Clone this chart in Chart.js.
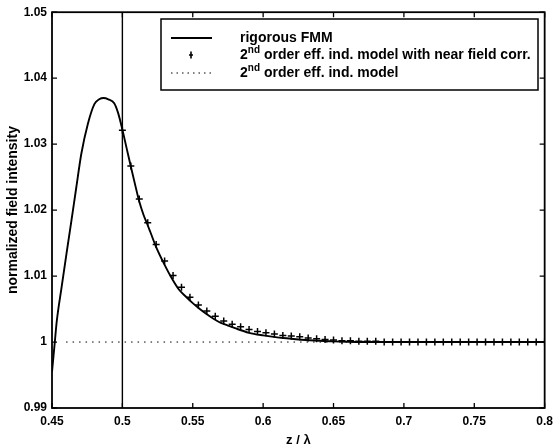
<!DOCTYPE html>
<html>
<head>
<meta charset="utf-8">
<script src="https://cdn.jsdelivr.net/npm/chart.js@4.4.1/dist/chart.umd.min.js"></script>
<style>
html,body{margin:0;padding:0;background:#fff;}
#wrap{width:559px;height:445px;}
</style>
</head>
<body>
<div id="wrap"><canvas id="c" width="559" height="445"></canvas></div>
<script>
// ---- data ----
const xTicks = [0.45, 0.5, 0.55, 0.6, 0.65, 0.7, 0.75, 0.8];
const xTickLabels = ['0.45', '0.5', '0.55', '0.6', '0.65', '0.7', '0.75', '0.8'];
const yTicks = [0.99, 1.0, 1.01, 1.02, 1.03, 1.04, 1.05];
const yTickLabels = ['0.99', '1', '1.01', '1.02', '1.03', '1.04', '1.05'];

// rigorous FMM (solid line)
const fmmZ = [0.450, 0.452, 0.4533, 0.4568, 0.4603, 0.4638, 0.4673, 0.4708, 0.4755, 0.4802, 0.4835, 0.4867,
  0.490, 0.4942, 0.497, 0.500, 0.503, 0.506, 0.509, 0.512, 0.515, 0.518, 0.520, 0.524, 0.530, 0.535,
  0.540, 0.545, 0.550, 0.555, 0.560, 0.565, 0.570, 0.575, 0.580, 0.590, 0.600, 0.610, 0.620, 0.630,
  0.640, 0.650, 0.660, 0.680, 0.700, 0.750, 0.800];
const fmmV = [0.9955, 1.0000, 1.0030, 1.0083, 1.0134, 1.0184, 1.0235, 1.0285, 1.0331, 1.0361, 1.0368, 1.0370,
  1.0368, 1.0362, 1.0347, 1.0322, 1.0294, 1.0266, 1.0239, 1.0213, 1.0193, 1.0177, 1.0166, 1.0144, 1.0117, 1.0097,
  1.0080, 1.0069, 1.0059, 1.0050, 1.0042, 1.0035, 1.0029, 1.0025, 1.0021, 1.0014, 1.0010, 1.0007, 1.0005, 1.0003,
  1.0002, 1.0001, 1.00005, 1.0000, 1.0000, 1.0000, 1.0000];

// 2nd order eff. ind. model with near field corr. (+ markers)
const nfZ = [0.500, 0.506, 0.512, 0.518, 0.524, 0.530, 0.536, 0.542, 0.548, 0.554, 0.560, 0.566, 0.572,
  0.578, 0.584, 0.590, 0.596, 0.602, 0.608, 0.614, 0.620, 0.626, 0.632, 0.638, 0.644, 0.650, 0.656,
  0.662, 0.668, 0.674, 0.680, 0.686, 0.692, 0.698, 0.704, 0.710, 0.716, 0.722, 0.728, 0.734, 0.740,
  0.746, 0.752, 0.758, 0.764, 0.770, 0.776, 0.782, 0.788, 0.794, 0.800];
const nfV = [1.0321, 1.0267, 1.0217, 1.0181, 1.0148, 1.0123, 1.0101, 1.0083, 1.0068, 1.0056, 1.0047, 1.0039, 1.0032,
  1.0027, 1.0023, 1.0019, 1.0016, 1.0014, 1.0012, 1.0010, 1.0009, 1.0008, 1.0006, 1.0005, 1.0004, 1.0003, 1.0002,
  1.0002, 1.0001, 1.0001, 1.0001, 1.0000, 1.0000, 1.0000, 1.0000, 1.0000, 1.0000, 1.0000, 1.0000, 1.0000, 1.0000,
  1.0000, 1.0000, 1.0000, 1.0000, 1.0000, 1.0000, 1.0000, 1.0000, 1.0000, 1.0000];

// 2nd order eff. ind. model (dotted)
const effZ = [0.460, 0.800];
const effV = [1.0, 1.0];

// vertical reference line
const vLineZ = [0.5, 0.5];
const vLineV = [0.99, 1.05];

const legendLabels = ['rigorous FMM', '2|nd| order eff. ind. model with near field corr.', '2|nd| order eff. ind. model'];

const pts = (xs, ys) => xs.map((x, i) => ({x: x, y: ys[i]}));

const FONT = '"Liberation Sans", Arial, sans-serif';

const boxPlugin = {
  id: 'boxTicksLegend',
  afterDraw(chart) {
    const ctx = chart.ctx;
    const {left, right, top, bottom} = chart.chartArea;
    const xs = chart.scales.x, ys = chart.scales.y;
    ctx.save();
    ctx.strokeStyle = '#000';
    ctx.lineWidth = 1.8;
    ctx.strokeRect(left, top, right - left, bottom - top);
    ctx.lineWidth = 1.3;
    const tl = 5;
    ctx.beginPath();
    xTicks.forEach(v => {
      const p = xs.getPixelForValue(v);
      ctx.moveTo(p, bottom); ctx.lineTo(p, bottom - tl);
      ctx.moveTo(p, top); ctx.lineTo(p, top + tl);
    });
    yTicks.forEach(v => {
      const p = ys.getPixelForValue(v);
      ctx.moveTo(left, p); ctx.lineTo(left + tl, p);
      ctx.moveTo(right, p); ctx.lineTo(right - tl, p);
    });
    ctx.stroke();

    // legend
    const bx = 161, by = 19, bw = 377, bh = 71;
    ctx.fillStyle = '#fff';
    ctx.fillRect(bx, by, bw, bh);
    ctx.lineWidth = 1.5;
    ctx.strokeRect(bx, by, bw, bh);
    const rows = [38, 55, 73];
    // sample 1: solid
    ctx.lineWidth = 1.8;
    ctx.beginPath(); ctx.moveTo(171, rows[0]); ctx.lineTo(212, rows[0]); ctx.stroke();
    // sample 2: cross marker
    ctx.lineWidth = 1.6;
    ctx.beginPath();
    ctx.moveTo(191, rows[1] - 3.5); ctx.lineTo(191, rows[1] + 3.5);
    ctx.moveTo(189, rows[1]); ctx.lineTo(193, rows[1]);
    ctx.stroke();
    // sample 3: dotted
    ctx.lineWidth = 1;
    ctx.setLineDash([1.5, 4]);
    ctx.beginPath(); ctx.moveTo(171, rows[2]); ctx.lineTo(212, rows[2]); ctx.stroke();
    ctx.setLineDash([]);
    // texts
    ctx.fillStyle = '#000';
    ctx.textBaseline = 'middle';
    ctx.textAlign = 'left';
    legendLabels.forEach((lab, i) => {
      const parts = lab.split('|');
      let x = 240;
      parts.forEach((p, j) => {
        if (j % 2 === 1) {
          ctx.font = 'bold 10px ' + FONT;
          ctx.fillText(p, x, rows[i] - 5);
        } else {
          ctx.font = 'bold 14px ' + FONT;
          ctx.fillText(p, x, rows[i]);
        }
        x += ctx.measureText(p).width;
      });
    });
    ctx.restore();
  }
};

new Chart(document.getElementById('c'), {
  type: 'scatter',
  data: {
    datasets: [
      {
        label: 'rigorous FMM',
        data: pts(fmmZ, fmmV),
        showLine: true,
        borderColor: '#000',
        borderWidth: 1.9,
        pointRadius: 0,
        cubicInterpolationMode: 'monotone'
      },
      {
        label: '2nd order eff. ind. model with near field corr.',
        data: pts(nfZ, nfV),
        showLine: false,
        pointStyle: 'cross',
        pointRadius: 3.5,
        borderColor: '#000',
        backgroundColor: '#000',
        pointBorderWidth: 1.5
      },
      {
        label: '2nd order eff. ind. model',
        data: pts(effZ, effV),
        showLine: true,
        borderColor: '#000',
        borderWidth: 1,
        borderDash: [1.5, 5],
        pointRadius: 0
      },
      {
        label: 'z = 0.5',
        data: pts(vLineZ, vLineV),
        showLine: true,
        borderColor: '#000',
        borderWidth: 1.4,
        pointRadius: 0
      }
    ]
  },
  options: {
    responsive: false,
    animation: false,
    events: [],
    layout: {padding: {top: 10, right: 8, left: 0, bottom: 0}},
    plugins: {legend: {display: false}, tooltip: {enabled: false}},
    scales: {
      x: {
        type: 'linear', min: 0.45, max: 0.8,
        afterBuildTicks: s => { s.ticks = xTicks.map(v => ({value: v})); },
        afterFit: s => { s.height = 37; },
        grid: {display: false, drawTicks: false},
        border: {display: false},
        ticks: {
          padding: 6, color: '#000', maxRotation: 0, autoSkip: false,
          font: {family: FONT, size: 12, weight: 'bold'},
          callback: v => xTickLabels[xTicks.findIndex(t => Math.abs(t - v) < 1e-9)]
        },
        title: {display: true, text: 'z / λ', color: '#000', padding: {top: 0, bottom: -2},
          font: {family: FONT, size: 13, weight: 'bold', lineHeight: 1}}
      },
      y: {
        type: 'linear', min: 0.99, max: 1.05,
        afterBuildTicks: s => { s.ticks = yTicks.map(v => ({value: v})); },
        afterFit: s => { s.width = 52; },
        grid: {display: false, drawTicks: false},
        border: {display: false},
        ticks: {
          padding: 5, color: '#000', autoSkip: false,
          font: {family: FONT, size: 12, weight: 'bold'},
          callback: v => yTickLabels[yTicks.findIndex(t => Math.abs(t - v) < 1e-9)]
        },
        title: {display: true, text: 'normalized field intensity', color: '#000',
          padding: {top: 6, bottom: 0},
          font: {family: FONT, size: 14, weight: 'bold', lineHeight: 1}}
      }
    }
  },
  plugins: [boxPlugin]
});
</script>
</body>
</html>
